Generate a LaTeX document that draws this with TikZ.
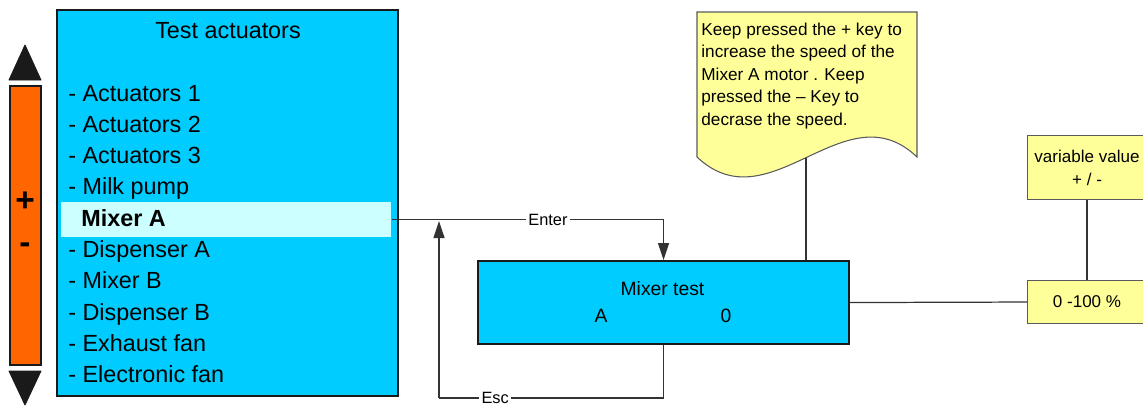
\documentclass[tikz,border=0pt]{standalone}
\usepackage{fontspec}
\setmainfont{Liberation Sans}
\usetikzlibrary{arrows.meta}
\definecolor{cyanbox}{RGB}{0,204,255}
\definecolor{hlcol}{RGB}{204,255,255}
\definecolor{orangebar}{RGB}{255,102,0}
\definecolor{notey}{RGB}{255,255,153}
\definecolor{darkline}{RGB}{26,26,26}
\definecolor{connline}{RGB}{51,51,51}
\definecolor{notegray}{RGB}{90,90,90}
\begin{document}
\begin{tikzpicture}[x=0.02cm,y=-0.02cm,
  mainbox/.style={draw=darkline,line width=1.2pt,fill=cyanbox,inner sep=0pt,anchor=north west},
  hlbox/.style={fill=hlcol,inner sep=0pt,anchor=north west},
  barbox/.style={draw=darkline,line width=1.2pt,fill=orangebar,inner sep=0pt,anchor=north west},
  yelbox/.style={draw=notegray,line width=0.6pt,fill=notey,inner sep=0pt,anchor=north west,align=center,font=\fontsize{9.7}{13}\selectfont},
  tri/.style={fill=darkline,draw=darkline,line width=0.5pt,line join=round},
  conn/.style={draw=connline,line width=0.7pt},
  arrowtip/.style={-{Triangle[length=0.34cm,width=0.22cm]}},
  lbl/.style={fill=white,inner sep=1.2pt,text=black,font=\fontsize{9.3}{11}\selectfont},
  itemtxt/.style={anchor=base west,inner sep=0pt,font=\fontsize{13.3}{16}\selectfont},
  notetxt/.style={anchor=base west,inner sep=0pt,font=\fontsize{9.8}{12}\selectfont},
  mixtxt/.style={anchor=base,inner sep=0pt,font=\fontsize{11}{13}\selectfont},
  signtxt/.style={inner sep=0pt,font=\fontsize{19}{21}\selectfont\bfseries}
]
\useasboundingbox (0,0) rectangle (1143,410);

% left bar with arrows
\node[barbox,minimum width=0.62cm,minimum height=5.58cm] (bar) at (9,85) {};
\path[tri] (9,80) -- (25,45) -- (41,80) -- cycle;
\path[tri] (9,371) -- (41,371) -- (25,405) -- cycle;
\node[signtxt] (plus) at (25,202) {+};
\node[signtxt] (minus) at (25,248) {-};

% main menu box
\node[mainbox,minimum width=6.82cm,minimum height=7.72cm] (menu) at (56,9) {};
\node[hlbox,minimum width=6.6cm,minimum height=0.7cm] (hl) at (61,202) {};
\node[anchor=base,inner sep=0pt,font=\fontsize{13.3}{16}\selectfont] (title) at (228,38) {Test actuators};
\foreach \t [count=\k] in {Actuators 1,Actuators 2,Actuators 3,Milk pump}
  \node[itemtxt] (it\k) at (68,{101+31.3*(\k-1)}) {- \t};
\node[itemtxt,font=\fontsize{13.3}{16}\selectfont\bfseries] (it5) at (81,226.2) {Mixer A};
\foreach \t [count=\k from 6] in {Dispenser A,Mixer B,Dispenser B,Exhaust fan,Electronic fan}
  \node[itemtxt] (it\k) at (68,{101+31.3*(\k-1)}) {- \t};

% mixer test box
\node[mainbox,minimum width=7.42cm,minimum height=1.66cm] (mixer) at (477,260) {};
\node[mixtxt] (mt) at (662.5,295) {Mixer test};
\node[mixtxt] (mA) at (601,322) {A};
\node[mixtxt] (m0) at (726,322) {0};

% note (document shape)
\path[draw=notegray,line width=0.6pt,fill=notey] (697,157) -- (697,12) -- (917,12) -- (917,157)
  .. controls (845,88) and (770,226) .. (697,157) -- cycle;
\foreach \t [count=\k] in {Keep pressed the + key to,increase the speed of the,Mixer A motor . Keep,pressed the – Key to,decrase the speed.}
  \node[notetxt] (n\k) at (701,{35.5+22.4*(\k-1)}) {\t};
\coordinate (noteb) at (806,158);

% right boxes
\node[yelbox,minimum width=2.38cm,minimum height=1.28cm] (var) at (1027,135) {variable value\\+ / -};
\node[yelbox,minimum width=2.38cm,minimum height=0.86cm] (range) at (1027,280) {0 -100 \%};

% connectors
\draw[conn,arrowtip] (hl.east) -| node[lbl,pos=0.2875] {Enter} (mixer.north);
\coordinate (escC) at (439,398);
\coordinate (escT) at (439,221);
\draw[conn] (mixer.south) |- node[lbl,pos=0.875] {Esc} (escC);
\draw[conn,arrowtip] (escC) -- (escT);
\draw[conn] (noteb) -- (noteb |- mixer.north);
\draw[conn] (mixer.east) -- (range.west);
\draw[conn] (var.south) -- (range.north);
\end{tikzpicture}
\end{document}
